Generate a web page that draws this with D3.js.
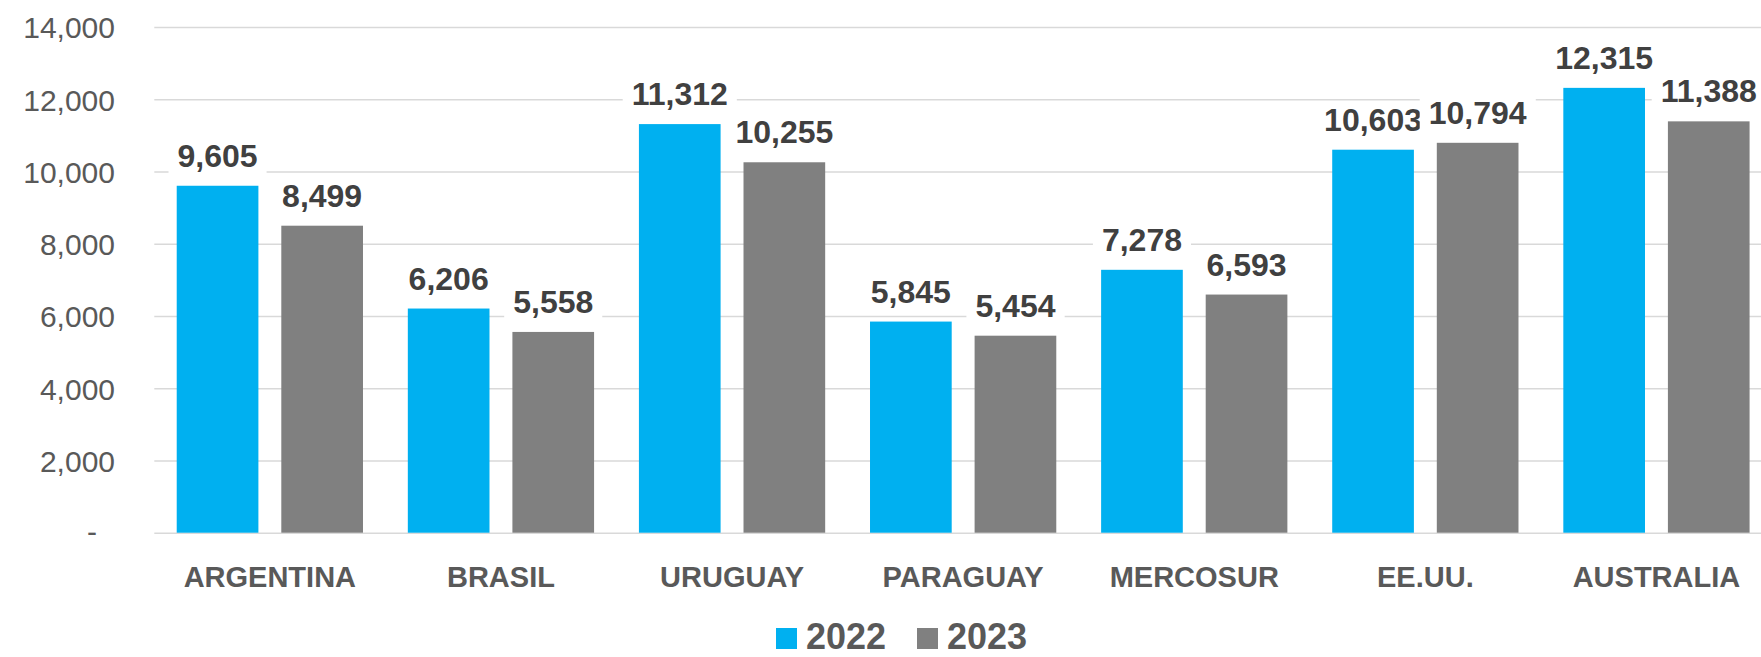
<!DOCTYPE html>
<html>
<head>
<meta charset="utf-8">
<script src="https://cdn.jsdelivr.net/npm/d3@7"></script>
<style>
    body { margin: 0; background: #fff; }
    svg { display: block; font-family: "Liberation Sans", Arial, sans-serif; }
    .grid line { stroke: #d9d9d9; stroke-width: 1.5; }
    .grid path { display: none; }
    .y-axis text { fill: #595959; font-size: 30px; }
    .y-axis path, .y-axis line { display: none; }
    .cat-label { fill: #595959; font-size: 29px; font-weight: bold; }
    .value-label { fill: #404040; font-size: 32px; font-weight: bold; }
    .legend text { fill: #595959; font-size: 36px; font-weight: bold; }
</style>
</head>
<body>
<svg id="chart" width="1761" height="657"></svg>
<script>
// Data
const categories = ["ARGENTINA", "BRASIL", "URUGUAY", "PARAGUAY", "MERCOSUR", "EE.UU.", "AUSTRALIA"];
const series = ["2022", "2023"];
const values2022 = [9605, 6206, 11312, 5845, 7278, 10603, 12315];
const values2023 = [8499, 5558, 10255, 5454, 6593, 10794, 11388];
const yTicks = [0, 2000, 4000, 6000, 8000, 10000, 12000, 14000];
const yTickLabels = ["-", "2,000", "4,000", "6,000", "8,000", "10,000", "12,000", "14,000"];

const colors = { "2022": "#00b0f0", "2023": "#808080" };

const width = 1761;
const plotLeft = 154.3;
const plotRight = 1772;   // the chart is cut off at the right edge
const plotTop = 27;
const plotBottom = 532.7;

const svg = d3.select("#chart");

// Rows for the grouped bars
let data = categories.map((c, i) => ({ category: c, "2022": values2022[i], "2023": values2023[i] }));

// Scales
let x0 = d3.scaleBand().domain(categories).range([plotLeft, plotRight])
    .paddingInner(0.194).paddingOuter(0.097);
let x1 = d3.scaleBand().domain(series).range([0, x0.bandwidth()]).paddingInner(0.219);
let y = d3.scaleLinear().domain([0, 14000]).range([plotBottom, plotTop]);

// Gridlines
svg.append("g")
    .attr("class", "grid")
    .attr("transform", `translate(${plotLeft},0)`)
    .call(d3.axisLeft(y).tickValues(yTicks).tickSize(-(width - plotLeft)).tickFormat(""));

// Y axis labels
let yAxis = svg.append("g")
    .attr("class", "y-axis")
    .attr("transform", `translate(115,0)`)
    .call(d3.axisLeft(y).tickValues(yTicks).tickSize(0).tickPadding(0)
        .tickFormat((d, i) => yTickLabels[i]));
yAxis.selectAll("text").attr("dy", "0.36em");
// Accounting format puts the dash in from the right edge
yAxis.selectAll(".tick").filter((d) => d === 0).select("text").attr("x", -18).attr("dy", "0.3em");

// Bars
let groups = svg.append("g").selectAll("g")
    .data(data)
    .enter().append("g")
    .attr("transform", (d) => `translate(${x0(d.category)},0)`);

groups.selectAll("rect")
    .data((d) => series.map((s) => ({ key: s, value: d[s] })))
    .enter().append("rect")
    .attr("x", (d) => x1(d.key))
    .attr("y", (d) => y(d.value))
    .attr("width", x1.bandwidth())
    .attr("height", (d) => y(0) - y(d.value))
    .attr("fill", (d) => colors[d.key]);

// Value labels with white boxes behind them
let labels = groups.selectAll("g.value")
    .data((d) => series.map((s) => ({ key: s, value: d[s] })))
    .enter().append("g")
    .attr("class", "value");

labels.append("rect").attr("fill", "#fff");
labels.append("text")
    .attr("class", "value-label")
    .attr("text-anchor", "middle")
    .attr("x", (d) => x1(d.key) + x1.bandwidth() / 2)
    .attr("y", (d) => y(d.value) - 19)
    .text((d) => d3.format(",")(d.value));

labels.each(function () {
    let g = d3.select(this);
    let box = g.select("text").node().getBBox();
    g.select("rect")
        .attr("x", box.x - 9)
        .attr("y", box.y)
        .attr("width", box.width + 18)
        .attr("height", box.height + 2);
});

// Category labels
svg.append("g").selectAll("text")
    .data(categories)
    .enter().append("text")
    .attr("class", "cat-label")
    .attr("text-anchor", "middle")
    .attr("x", (d) => x0(d) + x0.bandwidth() / 2)
    .attr("y", 587)
    .text((d) => d);

// Legend
let legend = svg.append("g").attr("class", "legend");
let legendX = [776, 917];
series.forEach((s, i) => {
    legend.append("rect")
        .attr("x", legendX[i])
        .attr("y", 628)
        .attr("width", 21)
        .attr("height", 21)
        .attr("fill", colors[s]);
    legend.append("text")
        .attr("x", legendX[i] + 30)
        .attr("y", 649)
        .text(s);
});
</script>
</body>
</html>
